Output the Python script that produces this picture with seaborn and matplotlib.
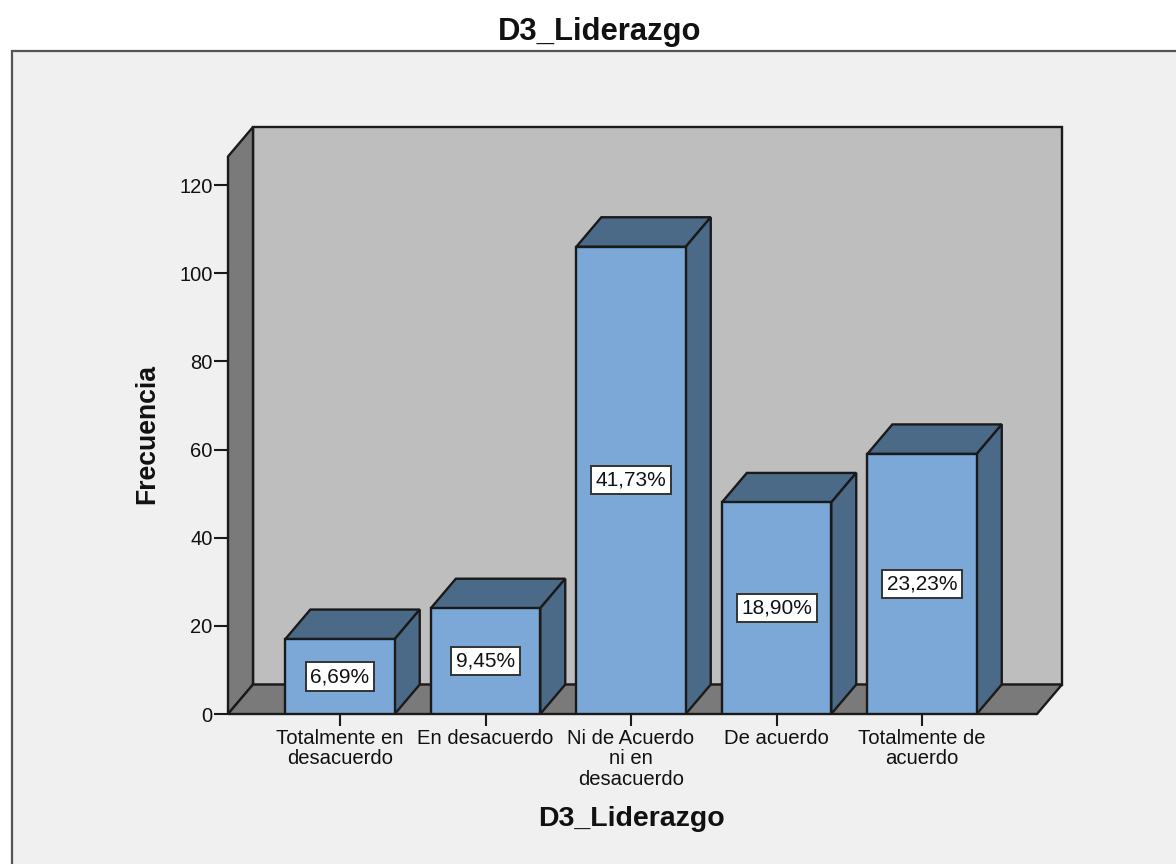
import matplotlib
matplotlib.use("Agg")
import matplotlib.pyplot as plt
from matplotlib.patches import Polygon, Rectangle
import pandas as pd
import seaborn as sns

# Frequencies and shares of the D3_Liderazgo dimension
categorias = ["Totalmente en\ndesacuerdo", "En desacuerdo", "Ni de Acuerdo\nni en\ndesacuerdo",
              "De acuerdo", "Totalmente de\nacuerdo"]
frecuencias = [17, 24, 106, 48, 59]
porcentajes = ["6,69%", "9,45%", "41,73%", "18,90%", "23,23%"]
ticks_y = [0, 20, 40, 60, 80, 100, 120]

W, H = 1176, 864
FONT = "Liberation Sans"
BAR_FACE = "#7BA8D6"
BAR_SHADE = "#4B6A87"
WALL = "#BEBEBE"
SIDE = "#7A7A7A"
LINE = "#1A1A1A"
LW = 1.7

sns.set_theme(style="white")
plt.rcParams["font.family"] = [FONT, "DejaVu Sans"]

fig = plt.figure(figsize=(W / 100, H / 100), dpi=100, facecolor="white")

# Grey chart panel that runs off the right and bottom edges
fig.add_artist(Rectangle((12 / W, -0.1), 1.2, 1.1 - 51 / H, transform=fig.transFigure,
                         facecolor="#F0F0F0", edgecolor="#555555", linewidth=1.6, zorder=-1))

ax = fig.add_axes([228 / W, 1 - 714 / H, (1037 - 228) / W, (714 - 156.5) / H])
ax.patch.set_alpha(0)

df = pd.DataFrame({"categoria": categorias, "frecuencia": frecuencias})
sns.barplot(data=df, x="categoria", y="frecuencia", color=BAR_FACE, saturation=1,
            width=0.752, edgecolor=LINE, linewidth=LW, ax=ax, zorder=5)

x_left, x_right = -0.77, 4.79
y_top = (714 - 156.5) / 4.408
ax.set_xlim(x_left, x_right)
ax.set_ylim(0, y_top)

# Depth of the 3D effect, in data units
dx = 25 / (809 / (x_right - x_left))
dy = 29.5 / 4.408


def face(points, color, z):
    ax.add_patch(Polygon(points, closed=True, facecolor=color, edgecolor=LINE,
                         linewidth=LW, joinstyle="miter", clip_on=False, zorder=z))


# Top and right faces of every bar
for bar in list(ax.patches):
    x0, x1 = bar.get_x(), bar.get_x() + bar.get_width()
    h = bar.get_height()
    face([(x0, h), (x1, h), (x1 + dx, h + dy), (x0 + dx, h + dy)], BAR_SHADE, 4)
    face([(x1, 0), (x1 + dx, dy), (x1 + dx, h + dy), (x1, h)], BAR_SHADE, 4)

# Back wall, left wall and floor
face([(x_left + dx, dy), (x_right + dx, dy), (x_right + dx, y_top + dy), (x_left + dx, y_top + dy)], WALL, 1)
face([(x_left, 0), (x_left + dx, dy), (x_left + dx, y_top + dy), (x_left, y_top)], SIDE, 2)
face([(x_left, 0), (x_right, 0), (x_right + dx, dy), (x_left + dx, dy)], SIDE, 2)

ax.bar_label(ax.containers[0], labels=porcentajes, label_type="center", fontsize=15,
             color="#111111", zorder=6,
             bbox=dict(boxstyle="square,pad=0.22", facecolor="white", edgecolor="#333333", linewidth=1.4))

sns.despine(ax=ax, left=True, bottom=True, right=True, top=True)
ax.set_yticks(ticks_y)
ax.tick_params(axis="y", left=True, length=10, width=1.5, color=LINE, pad=1, labelsize=14.5, labelcolor="#111111")
ax.tick_params(axis="x", bottom=True, length=8.5, width=1.5, color=LINE, pad=2, labelsize=14.6, labelcolor="#111111")
for lab in ax.get_xticklabels():
    lab.set_linespacing(1.12)

ax.set_xlabel("")
ax.set_ylabel("")
fig.text(632 / W, 1 - 819 / H, "D3_Liderazgo", fontsize=20.5, fontweight="bold", color="#111111",
         ha="center", va="center")
fig.text(147 / W, 1 - 434 / H, "Frecuencia", fontsize=19.2, fontweight="bold", color="#111111",
         rotation=90, ha="center", va="center")
fig.text(600 / W, 1 - 32 / H, "D3_Liderazgo", fontsize=22.3, fontweight="bold", color="#111111",
         ha="center", va="center")

fig.savefig("out.png", dpi=100, facecolor="white")
